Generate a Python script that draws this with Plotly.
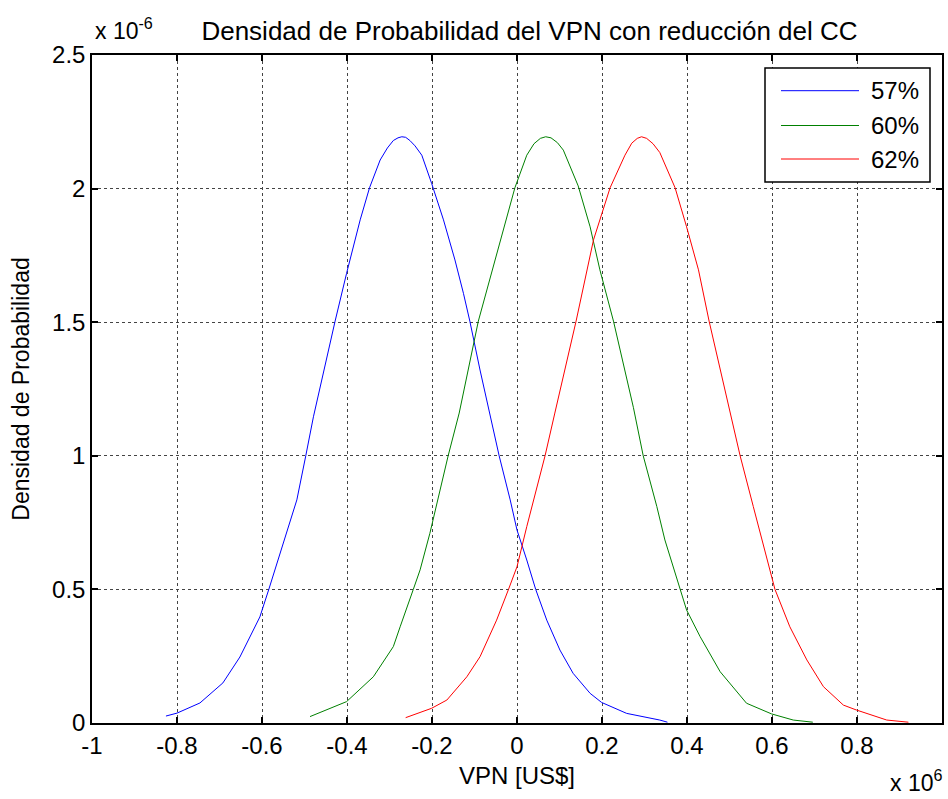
import plotly.graph_objects as go

# Data (x in units of 1e6 US$, density in units of 1e-6)
series_names = ["57%", "60%", "62%"]
series_colors = ["#0000ff", "#008000", "#ff0000"]

x_57 = [-0.826, -0.800, -0.746, -0.692, -0.652, -0.605, -0.584, -0.550, -0.518, -0.497,
        -0.479, -0.428, -0.401, -0.369, -0.347, -0.322, -0.305, -0.291, -0.280, -0.271,
        -0.262, -0.252, -0.240, -0.224, -0.201, -0.173, -0.146, -0.126, -0.111, -0.087,
        -0.062, -0.042, -0.016, 0.000, 0.023, 0.044, 0.070, 0.101, 0.132, 0.172,
        0.199, 0.258, 0.336, 0.354]
y_57 = [0.026, 0.037, 0.075, 0.150, 0.247, 0.397, 0.500, 0.673, 0.835, 1.000,
        1.146, 1.504, 1.683, 1.883, 2.003, 2.107, 2.152, 2.180, 2.190, 2.194,
        2.192, 2.180, 2.160, 2.125, 2.020, 1.883, 1.733, 1.608, 1.504, 1.321,
        1.137, 1.000, 0.835, 0.722, 0.610, 0.500, 0.385, 0.273, 0.186, 0.111,
        0.077, 0.036, 0.011, 0.003]

x_60 = [-0.487, -0.401, -0.338, -0.291, -0.275, -0.252, -0.244, -0.228, -0.205, -0.162,
        -0.136, -0.091, -0.048, -0.005, 0.023, 0.040, 0.055, 0.0675, 0.080, 0.095,
        0.109, 0.144, 0.172, 0.195, 0.227, 0.274, 0.297, 0.329, 0.348, 0.384,
        0.399, 0.431, 0.478, 0.540, 0.599, 0.650, 0.696]
y_60 = [0.024, 0.080, 0.173, 0.286, 0.360, 0.460, 0.500, 0.573, 0.710, 1.000,
        1.160, 1.504, 1.757, 2.003, 2.125, 2.168, 2.188, 2.194, 2.190, 2.172,
        2.144, 2.010, 1.857, 1.696, 1.504, 1.180, 1.000, 0.810, 0.685, 0.500,
        0.423, 0.323, 0.192, 0.074, 0.034, 0.011, 0.003]

x_62 = [-0.262, -0.201, -0.165, -0.118, -0.087, -0.048, -0.020, 0.000, 0.023, 0.066,
        0.089, 0.139, 0.180, 0.219, 0.254, 0.270, 0.283, 0.293, 0.305, 0.320,
        0.336, 0.372, 0.399, 0.427, 0.452, 0.501, 0.525, 0.556, 0.580, 0.607,
        0.642, 0.682, 0.721, 0.768, 0.798, 0.870, 0.921]
y_62 = [0.020, 0.055, 0.086, 0.173, 0.248, 0.385, 0.500, 0.585, 0.735, 1.000,
        1.160, 1.504, 1.808, 2.003, 2.125, 2.170, 2.188, 2.194, 2.188, 2.168,
        2.135, 2.003, 1.857, 1.696, 1.504, 1.160, 1.000, 0.810, 0.660, 0.500,
        0.360, 0.236, 0.136, 0.067, 0.049, 0.011, 0.003]

x_ticks = [-1, -0.8, -0.6, -0.4, -0.2, 0, 0.2, 0.4, 0.6, 0.8, 1]
x_tick_labels = ["-1", "-0.8", "-0.6", "-0.4", "-0.2", "0", "0.2", "0.4", "0.6", "0.8", "1"]
y_ticks = [0, 0.5, 1, 1.5, 2, 2.5]
y_tick_labels = ["0", "0.5", "1", "1.5", "2", "2.5"]

title_text = "Densidad de Probabilidad del VPN con reducción del CC"
x_title = "VPN [US$]"
y_title = "Densidad de Probabilidad"

FONT = "Liberation Sans, Arial, Helvetica, sans-serif"

fig = go.Figure()
for name, color, xs, ys in zip(series_names, series_colors,
                               [x_57, x_60, x_62], [y_57, y_60, y_62]):
    fig.add_trace(go.Scatter(x=xs, y=ys, mode="lines", name=name,
                             line=dict(color=color, width=1),
                             showlegend=False))

# Plot area geometry in pixels
L, R, T, B = 92, 942, 55, 723
W, H = 948, 799
pw, ph = R - L, B - T

def px(xp):
    return (xp - L) / pw

def py(yp):
    return (B - yp) / ph

axis_common = dict(
    showline=True, linecolor="black", linewidth=1.5, mirror="ticks",
    ticks="inside", ticklen=6, tickcolor="black", tickwidth=1.5,
    showgrid=True, gridcolor="#444444", griddash="dot", gridwidth=1,
    zeroline=False, tickfont=dict(family=FONT, size=24, color="black"),
)

fig.update_layout(
    width=W, height=H,
    margin=dict(l=L, r=W - R, t=T, b=H - B, autoexpand=False),
    paper_bgcolor="white", plot_bgcolor="white",
    font=dict(family=FONT, color="black"),
    title=dict(text=title_text, xref="container", x=529.5 / W, xanchor="center",
               y=1 - 31 / H, yanchor="middle",
               font=dict(family=FONT, size=26, color="black")),
    xaxis=dict(range=[-1, 1], tickvals=x_ticks, ticktext=x_tick_labels,
               title=dict(text=x_title, font=dict(family=FONT, size=24), standoff=10),
               **axis_common),
    yaxis=dict(range=[0, 2.5], tickvals=y_ticks, ticktext=y_tick_labels,
               title=dict(text=y_title, font=dict(family=FONT, size=23), standoff=16),
               **axis_common),
    showlegend=False,
)

annotations = [
    dict(text="x 10<sup>-6</sup>", xref="paper", yref="paper", x=px(93), y=py(46),
         xanchor="left", yanchor="bottom", showarrow=False,
         font=dict(family=FONT, size=23, color="black")),
    dict(text="x 10<sup>6</sup>", xref="paper", yref="paper", x=px(944), y=py(798),
         xanchor="right", yanchor="bottom", showarrow=False,
         font=dict(family=FONT, size=23, color="black")),
]

# Legend box drawn like MATLAB's
shapes = [dict(type="rect", xref="paper", yref="paper",
               x0=px(765), x1=px(930), y0=py(182), y1=py(68),
               line=dict(color="black", width=1.5), fillcolor="white", layer="above")]
row_y = [90.7, 125.5, 159.0]
for name, color, ry in zip(series_names, series_colors, row_y):
    shapes.append(dict(type="line", xref="paper", yref="paper",
                       x0=px(781), x1=px(859), y0=py(ry), y1=py(ry),
                       line=dict(color=color, width=1), layer="above"))
    annotations.append(dict(text=name, xref="paper", yref="paper", x=px(869), y=py(ry),
                            xanchor="left", yanchor="middle", showarrow=False,
                            font=dict(family=FONT, size=24, color="black")))

fig.update_layout(shapes=shapes, annotations=annotations)
fig.write_html("out.html", config={"displayModeBar": False},
               post_script="document.body.style.margin='0';")
